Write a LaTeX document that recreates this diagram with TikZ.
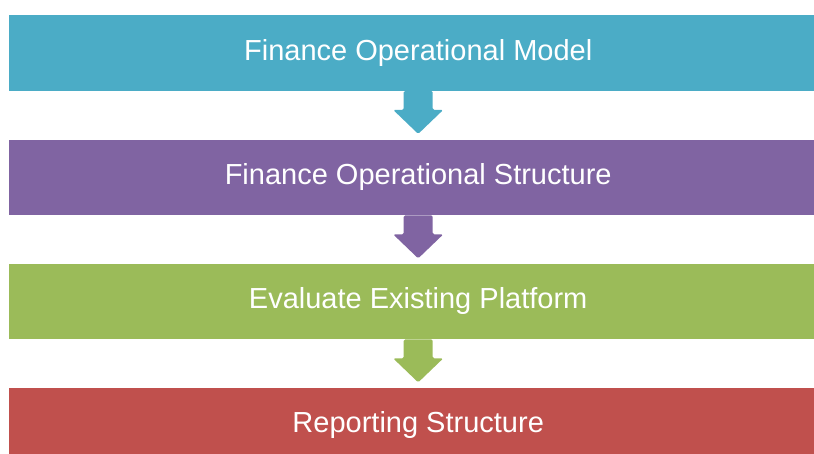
\documentclass[tikz,border=0pt]{standalone}
\usepackage{fontspec}
\setmainfont{Liberation Sans}
\definecolor{cteal}{HTML}{4BACC6}
\definecolor{cpurple}{HTML}{8064A2}
\definecolor{cgreen}{HTML}{9BBB59}
\definecolor{cred}{HTML}{C0504D}
\begin{document}
\begin{tikzpicture}[x=1pt,y=-1pt,
  band/.style={minimum width=818pt,minimum height=75.5pt,inner sep=0pt,anchor=north west,text=white,font=\fontsize{29}{34}\selectfont}]
\useasboundingbox (0,0) rectangle (814,453);
\clip (0,0) rectangle (814,453);
\node[band,fill=cteal] (b1) at (9,15) {Finance Operational Model};
\node[band,fill=cpurple] (b2) at (9,139.5) {Finance Operational Structure};
\node[band,fill=cgreen] (b3) at (9,263.5) {Evaluate Existing Platform};
\node[band,fill=cred] (b4) at (9,387.5) {Reporting Structure};
\foreach \a/\c in {b1/cteal,b2/cpurple,b3/cgreen}{
  \coordinate (\a-t) at ([yshift=-19pt]\a.south);
  \fill[\c,rounded corners=1.5pt] ([xshift=-14.5pt]\a.south) -- ([xshift=-14.5pt]\a-t) -- ([xshift=-25pt]\a-t) -- ([yshift=-24pt]\a-t) -- ([xshift=25pt]\a-t) -- ([xshift=14.5pt]\a-t) -- ([xshift=14.5pt]\a.south) -- cycle;
}
\end{tikzpicture}
\end{document}
